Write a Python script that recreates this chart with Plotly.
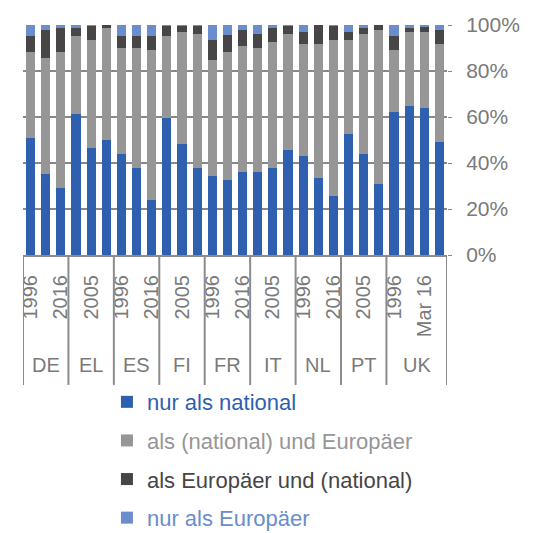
import plotly.graph_objects as go

countries = ["DE", "EL", "ES", "FI", "FR", "IT", "NL", "PT", "UK"]
periods = [
    ["1996", "2005", "2016"],
    ["1996", "2005", "2016"],
    ["1996", "2005", "2016"],
    ["1996", "2005", "2016"],
    ["1996", "2005", "2016"],
    ["1996", "2005", "2016"],
    ["1996", "2005", "2016"],
    ["1996", "2005", "2016"],
    ["1996", "2005", "Mar 16", "Jun 16"],
]

# shares in percent (bottom to top)
nur_national = [50.7, 35.1, 29.0, 61.2, 46.4, 49.9, 43.8, 37.7, 23.8,
                59.4, 48.1, 37.7, 34.2, 32.5, 36.0, 36.0, 37.7, 45.5,
                42.9, 33.3, 25.5, 52.5, 43.8, 30.7, 62.0, 64.7, 63.8, 49.0]
national_und_eu = [37.4, 50.4, 59.1, 34.0, 47.1, 48.7, 46.1, 52.4, 65.3,
                   35.8, 48.7, 58.4, 50.6, 55.6, 54.7, 53.9, 54.9, 50.6,
                   48.8, 58.4, 68.0, 41.0, 52.3, 67.1, 27.1, 32.1, 33.0, 42.7]
eu_und_national = [7.1, 12.3, 10.5, 3.4, 6.1, 1.4, 5.3, 5.1, 6.1,
                   4.4, 2.8, 3.5, 8.7, 7.6, 7.1, 6.2, 6.0, 3.5,
                   5.1, 8.3, 6.1, 3.3, 2.5, 2.2, 6.1, 1.8, 2.5, 6.1]
nur_eu = [4.8, 2.2, 1.4, 1.4, 0.4, 0.0, 4.8, 4.8, 4.8,
          0.4, 0.4, 0.4, 6.5, 4.3, 2.2, 3.9, 1.4, 0.4,
          3.2, 0.0, 0.4, 3.2, 1.4, 0.0, 4.8, 1.4, 0.7, 2.2]

series_names = ["nur als national", "als (national) und Europäer",
                "als Europäer und (national)", "nur als Europäer"]
series_values = [nur_national, national_und_eu, eu_und_national, nur_eu]
colors = ["#2F5FAF", "#969696", "#474545", "#6A8DCD"]
y_ticks = [0, 20, 40, 60, 80, 100]

# flatten categories
x_idx, year_labels, group_bounds, group_centers = [], [], [], []
i = 0
for c, ps in zip(countries, periods):
    start = i
    for p in ps:
        x_idx.append(i)
        year_labels.append(p)
        i += 1
    group_bounds.append(start - 0.5)
    group_centers.append((start + i - 1) / 2)
group_bounds.append(i - 0.5)

FONT = "Liberation Sans, Arial, sans-serif"
fig = go.Figure()
for k, (nm, vals, col) in enumerate(zip(series_names, series_values, colors)):
    fig.add_trace(go.Bar(
        x=x_idx, y=vals, marker=dict(color=col, line=dict(width=0)),
        name=f'<span style="color:{col}">{nm}</span>',
        legendgroup=f"g{k}",
    ))

shown = list(range(0, len(x_idx), 2))
axis_col = "#8C8C8C"
label_col = "#7A7A7A"

shapes = []
for b in group_bounds:
    shapes.append(dict(type="line", xref="x", yref="paper", x0=b, x1=b,
                       y0=0, y1=-0.565, line=dict(color=axis_col, width=2)))
annotations = []
for c, cx in zip(countries, group_centers):
    annotations.append(dict(x=cx, y=-0.478, xref="x", yref="paper", text=c,
                            showarrow=False, yanchor="middle", xanchor="center",
                            font=dict(family=FONT, size=20, color=label_col)))

fig.update_layout(
    width=526, height=525,
    margin=dict(l=15, r=87, t=17, b=278, autoexpand=False),
    paper_bgcolor="white", plot_bgcolor="white",
    barmode="stack", bargap=0.4,
    showlegend=True,
    legend=dict(x=0.198, y=-0.548, xanchor="left", yanchor="top",
                orientation="v", traceorder="grouped", tracegroupgap=7,
                font=dict(family=FONT, size=22), bgcolor="rgba(0,0,0,0)"),
    shapes=shapes, annotations=annotations,
    font=dict(family=FONT),
)
fig.update_xaxes(
    range=[-0.5, len(x_idx) - 0.5], tickmode="array",
    tickvals=[x_idx[j] for j in shown], ticktext=[year_labels[j] for j in shown],
    tickangle=-90, ticks="", showgrid=False, zeroline=False,
    showline=True, linecolor=axis_col, linewidth=2,
    tickfont=dict(family=FONT, size=20, color=label_col),
    ticklabelstandoff=10, automargin=False,
)
fig.update_yaxes(
    side="right", range=[0, 100], tickmode="array", tickvals=y_ticks,
    ticktext=[f"{v}%" for v in y_ticks],
    showgrid=True, gridcolor="#888888", gridwidth=1.5, zeroline=False,
    ticks="outside", ticklen=4, tickcolor="#888888",
    tickfont=dict(family=FONT, size=21, color=label_col),
    ticklabelstandoff=10, automargin=False,
)
fig.write_html("out.html")
